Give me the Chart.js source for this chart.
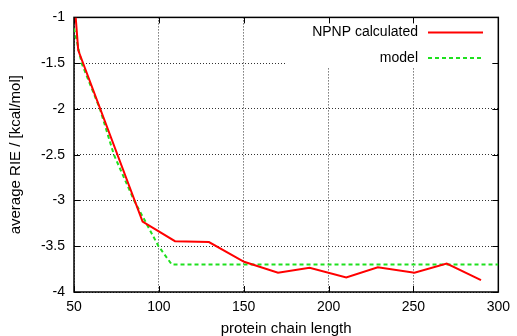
<!DOCTYPE html>
<html>
<head>
<meta charset="utf-8">
<script src="https://cdn.jsdelivr.net/npm/chart.js@4/dist/chart.umd.min.js"></script>
<style>
  body { margin: 0; background: #fff; }
  canvas { display: block; }
</style>
</head>
<body>
<canvas id="rieChart" width="517" height="336"></canvas>
<script>
// values
const calcLength = [51, 52.5, 90.4, 109.5, 129.5, 150.2, 170.2, 188.8, 210.4, 229, 250.6, 269.6, 289.8];
const calcRIE = [-1.0, -1.36, -3.23, -3.445, -3.455, -3.67, -3.79, -3.735, -3.84, -3.73, -3.79, -3.69, -3.87];
const modelLength = [50, 54.5, 65.3, 73.5, 85.4, 99.8, 107.6, 300];
const modelRIE = [-1.12, -1.5, -2.0, -2.5, -3.0, -3.5, -3.7, -3.7];
const xTicks = [50, 100, 150, 200, 250, 300];
const yTicks = [-1, -1.5, -2, -2.5, -3, -3.5, -4];
const seriesNames = ['NPNP calculated', 'model'];

const FONT = '"Liberation Sans", Arial, sans-serif';

function toPoints(xs, ys) {
    return xs.map(function (x, i) { return { x: x, y: ys[i] }; });
}

// gnuplot style frame: full border, inner ticks, legend box inside the plot
const framePlugin = {
    id: 'frame',
    beforeDatasetsDraw: function (chart) {
        const ctx = chart.ctx;
        const a = chart.chartArea;
        const xs = chart.scales.x, ys = chart.scales.y;
        ctx.save();
        // legend background hides the grid
        ctx.fillStyle = '#fff';
        ctx.fillRect(286, 16, 207, 52);
        ctx.strokeStyle = '#000';
        ctx.lineWidth = 1;
        ctx.beginPath();
        xTicks.forEach(function (v) {
            const px = Math.round(xs.getPixelForValue(v)) + 0.5;
            ctx.moveTo(px, a.bottom); ctx.lineTo(px, a.bottom - 6);
            ctx.moveTo(px, a.top); ctx.lineTo(px, a.top + 6);
        });
        yTicks.forEach(function (v) {
            const py = Math.round(ys.getPixelForValue(v)) + 0.5;
            ctx.moveTo(a.left, py); ctx.lineTo(a.left + 6, py);
            ctx.moveTo(a.right, py); ctx.lineTo(a.right - 6, py);
        });
        ctx.stroke();
        ctx.lineWidth = 1.5;
        ctx.strokeRect(a.left, a.top, a.right - a.left, a.bottom - a.top);

        // legend
        const rows = [
            { y: 32.5, color: chart.data.datasets[0].borderColor, dash: [] },
            { y: 58, color: chart.data.datasets[1].borderColor, dash: [4, 3] }
        ];
        ctx.font = '14px ' + FONT;
        ctx.textAlign = 'right';
        ctx.textBaseline = 'middle';
        rows.forEach(function (r, i) {
            ctx.fillStyle = '#000';
            ctx.fillText(seriesNames[i], 418, r.y);
            ctx.strokeStyle = r.color;
            ctx.lineWidth = 2;
            ctx.setLineDash(r.dash);
            ctx.beginPath();
            ctx.moveTo(428, r.y);
            ctx.lineTo(483, r.y);
            ctx.stroke();
        });
        ctx.restore();
    }
};

const ctx = document.getElementById('rieChart').getContext('2d');
new Chart(ctx, {
    type: 'line',
    data: {
        datasets: [
            {
                label: seriesNames[0],
                data: toPoints(calcLength, calcRIE),
                borderColor: '#ff0000',
                borderWidth: 2,
                pointRadius: 0,
                fill: false,
                tension: 0
            },
            {
                label: seriesNames[1],
                data: toPoints(modelLength, modelRIE),
                borderColor: '#1ee01e',
                borderWidth: 2,
                borderDash: [4, 3],
                pointRadius: 0,
                fill: false,
                tension: 0
            }
        ]
    },
    options: {
        responsive: false,
        animation: false,
        layout: { padding: { top: 13, right: 17, left: 0, bottom: 0 } },
        plugins: {
            legend: { display: false },
            tooltip: { enabled: false }
        },
        scales: {
            x: {
                type: 'linear',
                min: 50,
                max: 300,
                afterBuildTicks: function (scale) {
                    scale.ticks = xTicks.map(function (v) { return { value: v }; });
                },
                afterFit: function (scale) { scale.height = 44; },
                grid: {
                    color: '#333',
                    lineWidth: 1,
                    drawTicks: false
                },
                border: { display: false, dash: [1, 2] },
                ticks: {
                    padding: 7,
                    color: '#000',
                    font: { family: FONT, size: 14 },
                    maxRotation: 0,
                    callback: function (v) { return String(v); }
                },
                title: {
                    display: true,
                    text: 'protein chain length',
                    color: '#000',
                    font: { family: FONT, size: 15, lineHeight: 0.9 },
                    padding: { top: 0, bottom: 0 }
                }
            },
            y: {
                type: 'linear',
                min: -4,
                max: -1,
                afterBuildTicks: function (scale) {
                    scale.ticks = yTicks.map(function (v) { return { value: v }; });
                },
                afterFit: function (scale) { scale.width = 74; },
                grid: {
                    color: '#333',
                    lineWidth: 1,
                    drawTicks: false
                },
                border: { display: false, dash: [1, 2] },
                ticks: {
                    padding: 9,
                    color: '#000',
                    font: { family: FONT, size: 14 },
                    callback: function (v) { return String(v); }
                },
                title: {
                    display: true,
                    text: 'average RIE / [kcal/mol]',
                    color: '#000',
                    font: { family: FONT, size: 15, lineHeight: 1.2 },
                    padding: { top: 7, bottom: 0 }
                }
            }
        }
    },
    plugins: [framePlugin]
});
</script>
</body>
</html>
